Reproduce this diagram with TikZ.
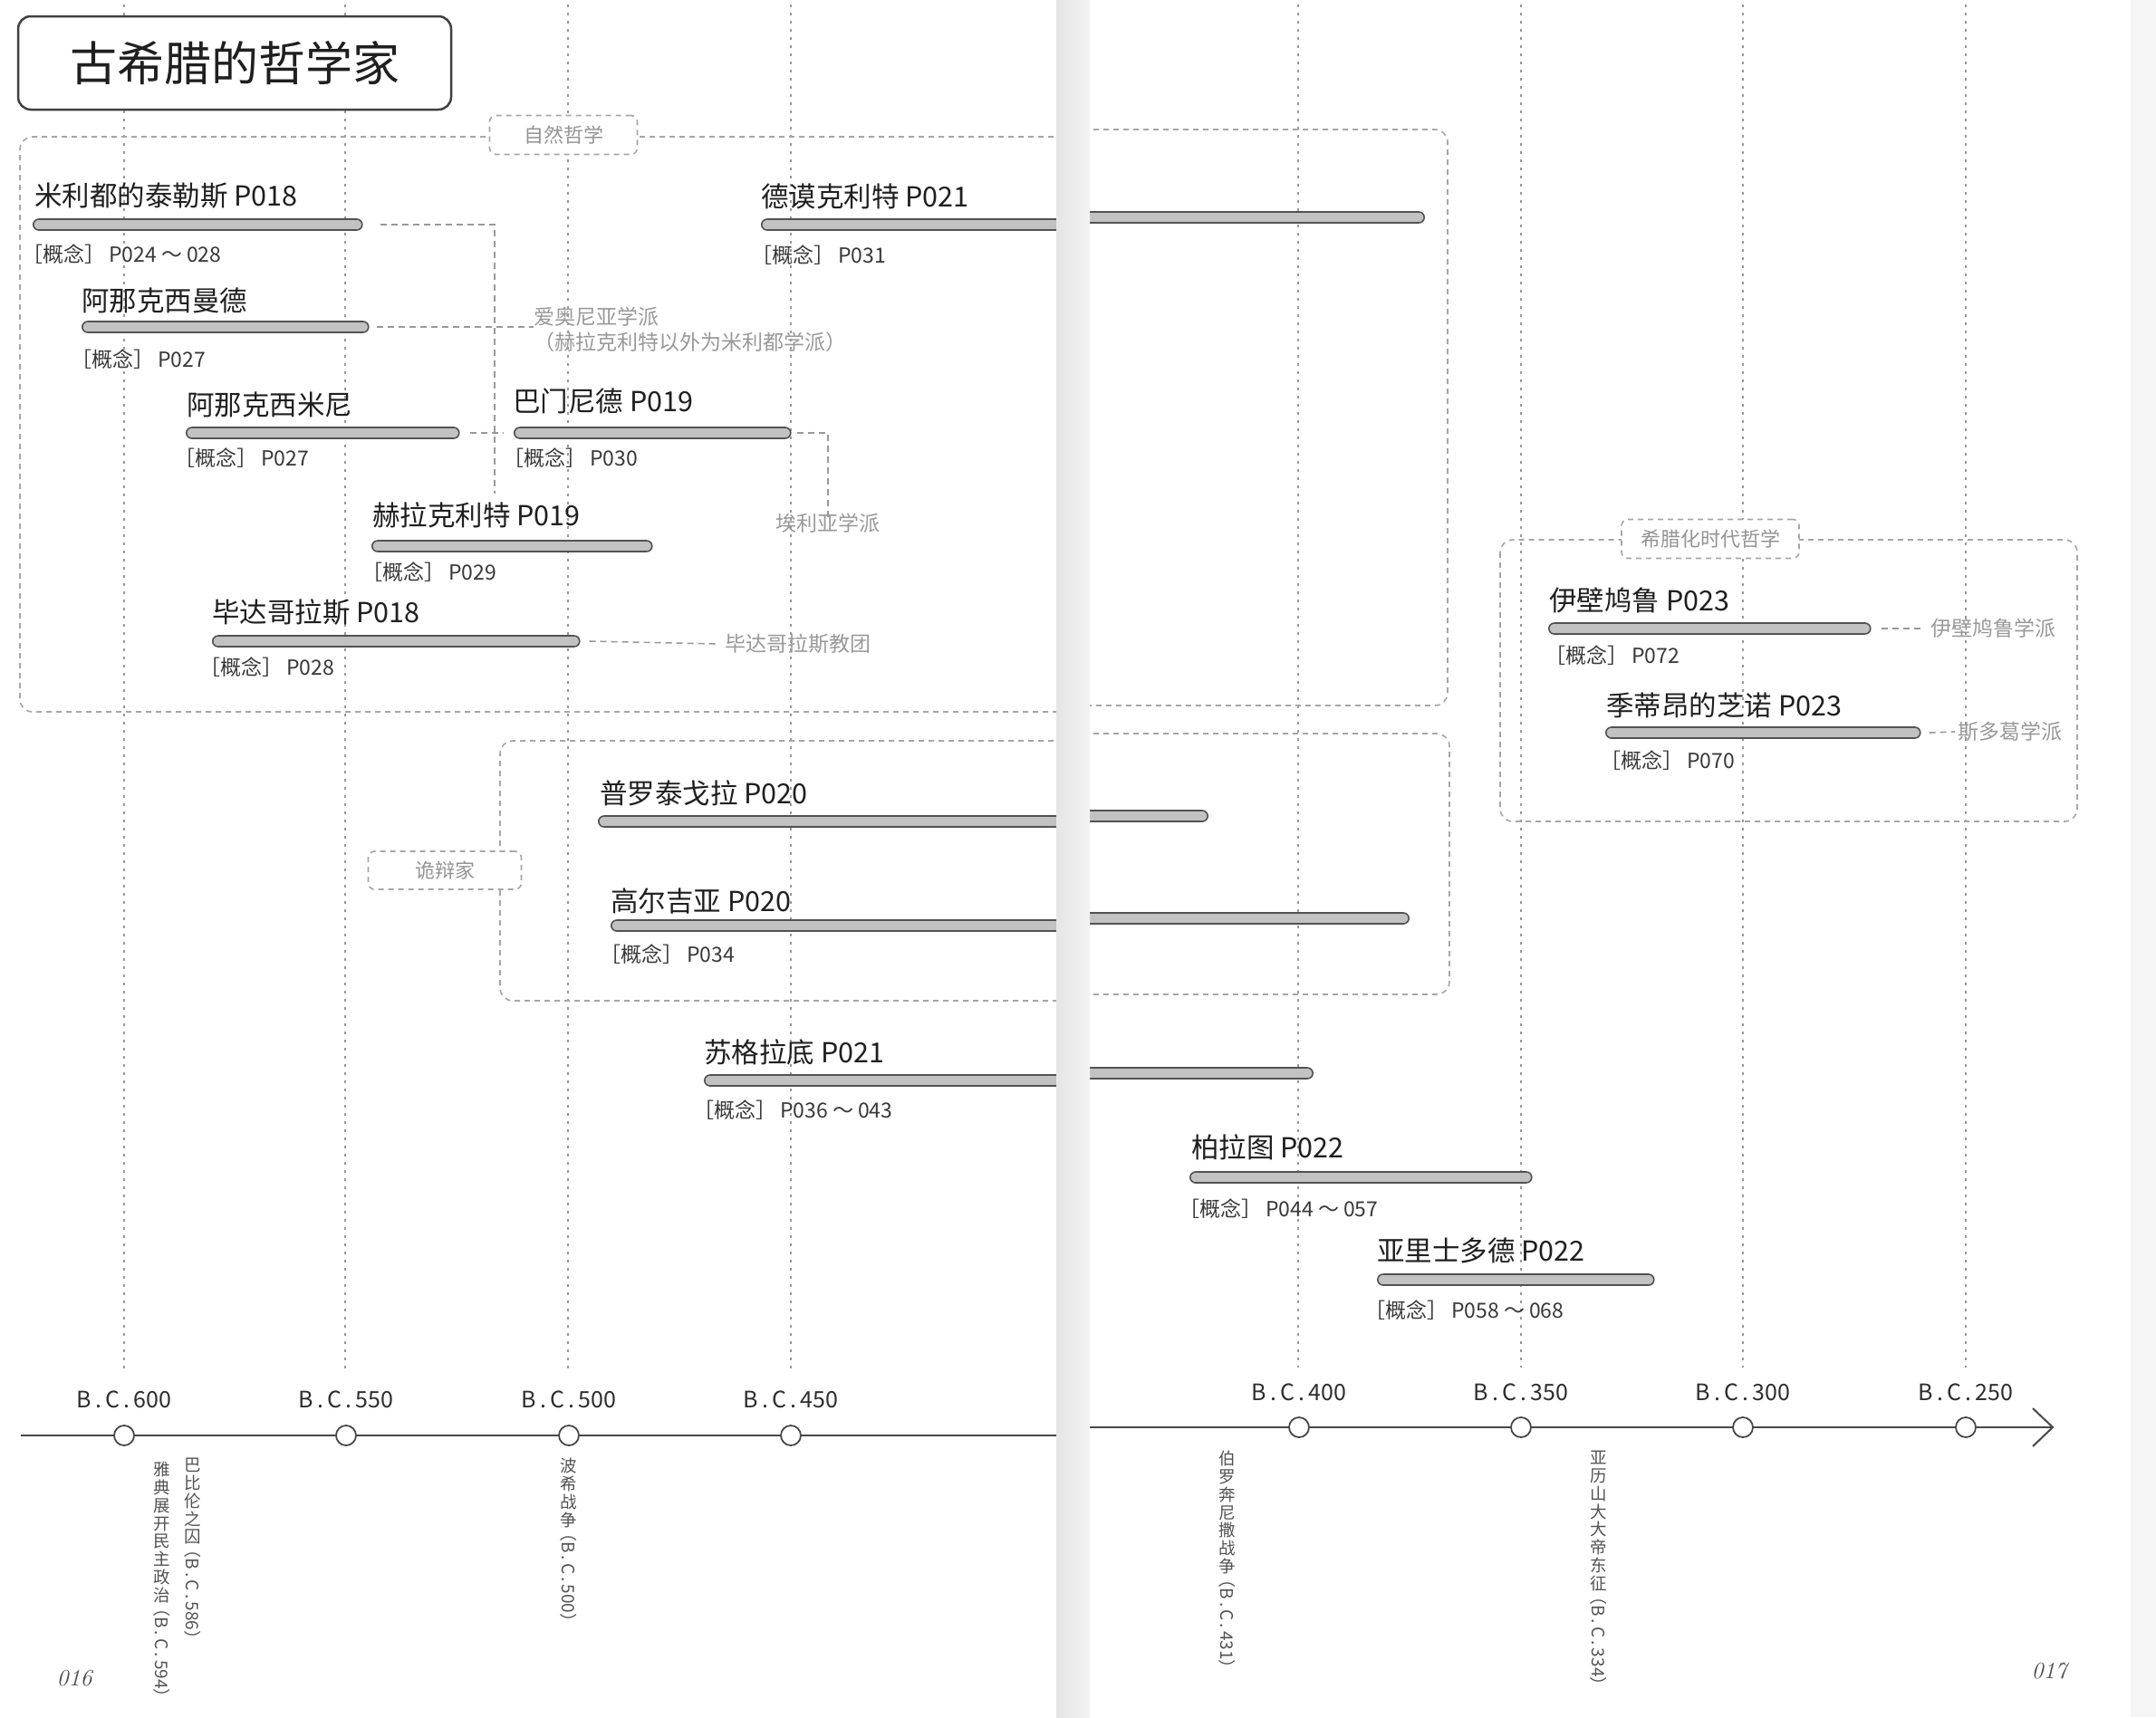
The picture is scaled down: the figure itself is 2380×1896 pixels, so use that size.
\documentclass[tikz,border=0pt]{standalone}
\usepackage{fontspec}
\newfontfamily\cjk{Noto Sans CJK SC}
\newcommand\fs[1]{\fontsize{#1}{#1}\selectfont}
\newcommand\gainian{［概念］\,}
\tikzset{
  grid line/.style={draw=black!40, line width=1.7pt, dash pattern=on 3pt off 6pt},
  group frame/.style={draw=black!35, line width=1.6pt, dash pattern=on 6pt off 5pt, rounded corners=14pt},
  group tag/.style={draw=black!35, line width=1.6pt, dash pattern=on 6pt off 5pt, rounded corners=7pt,
    fill=white, text=black!42, font=\cjk\fs{22}, inner sep=0pt},
  lifebar/.style={draw=black!68, fill=black!24, line width=1.6pt, rounded corners=6pt,
    minimum height=12pt, inner sep=0pt},
  person/.style={font=\cjk\fs{30.5}, text=black!88, inner sep=0pt, anchor=west},
  concept/.style={font=\cjk\fs{23}, text=black!78, inner sep=0pt, anchor=west, xshift=-12pt},
  school/.style={font=\cjk\fontsize{23}{28}\selectfont, text=black!40, inner sep=0pt},
  link/.style={draw=black!40, line width=1.6pt, dash pattern=on 7pt off 5pt},
  era/.style={font=\cjk\fs{25}, text=black!82, inner sep=0pt},
  tick/.style={circle, draw=black!72, fill=white, line width=1.8pt, minimum size=22pt, inner sep=0pt},
  axis line/.style={draw=black!72, line width=2.4pt},
  event/.style={font=\cjk\fontsize{18.5}{19.8}\selectfont, text=black!68, inner sep=0pt, align=center, anchor=north},
  event date/.style={font=\cjk\fs{19}, text=black!68, inner sep=0pt, rotate=-90, anchor=west},
}
\begin{document}
\begin{tikzpicture}[x=1pt,y=-1pt]
\useasboundingbox (0,0) rectangle (2380,1896);
\fill[white] (0,0) rectangle (2380,1896);
\fill[black!4] (2352,0) rectangle (2380,1896);

% dotted year guides
\foreach \gx in {137,381,627,873} \draw[grid line] (\gx,5) -- (\gx,1515);
\foreach \gx in {1433,1679,1924,2170} \draw[grid line] (\gx,5) -- (\gx,1510);

% group frames
\draw[group frame] (1185,151) -- (22,151) -- (22,786) -- (1185,786);
\draw[group frame] (1185,143) -- (1598,143) -- (1598,779) -- (1185,779);
\draw[group frame] (1185,818) -- (552,818) -- (552,1105) -- (1185,1105);
\draw[group frame] (1185,810) -- (1600,810) -- (1600,1098) -- (1185,1098);
\draw[group frame] (1656,596) rectangle (2293,907);

% life bars
\node[lifebar, anchor=west, minimum width=363pt] (thales) at (36,248) {};
\node[lifebar, anchor=west, minimum width=316pt] (anaximander) at (90,361) {};
\node[lifebar, anchor=west, minimum width=301pt] (anaximenes) at (205,478) {};
\node[lifebar, anchor=west, minimum width=305pt] (parmenides) at (567,478) {};
\node[lifebar, anchor=west, minimum width=309pt] (heraclitus) at (410,603) {};
\node[lifebar, anchor=west, minimum width=405pt] (pythagoras) at (234,708) {};
\node[lifebar, anchor=west, minimum width=377pt] (plato) at (1313,1300) {};
\node[lifebar, anchor=west, minimum width=305pt] (aristotle) at (1520,1413) {};
\node[lifebar, anchor=west, minimum width=355pt] (epicurus) at (1709,694) {};
\node[lifebar, anchor=west, minimum width=347pt] (zeno) at (1772,809) {};

% bars running across the binding: left page part
\begin{scope}
\clip (0,0) rectangle (1166,1896);
\node[lifebar, anchor=west, minimum width=380pt] (democritus) at (840,248) {};
\node[lifebar, anchor=west, minimum width=560pt] (protagoras) at (660,907) {};
\node[lifebar, anchor=west, minimum width=546pt] (gorgias) at (674,1022) {};
\node[lifebar, anchor=west, minimum width=443pt] (socrates) at (777,1193) {};
\end{scope}
% ... and right page part
\begin{scope}
\clip (1203,0) rectangle (2380,1896);
\node[lifebar, anchor=east, minimum width=423pt] (democritusB) at (1573,240) {};
\node[lifebar, anchor=east, minimum width=184pt] (protagorasB) at (1334,901) {};
\node[lifebar, anchor=east, minimum width=406pt] (gorgiasB) at (1556,1014) {};
\node[lifebar, anchor=east, minimum width=300pt] (socratesB) at (1450,1185) {};
\end{scope}

% names
\node[person] (n-thales) at (38,216) {米利都的泰勒斯 P018};
\node[person] (n-anaximander) at (90,332) {阿那克西曼德};
\node[person] (n-anaximenes) at (206,447) {阿那克西米尼};
\node[person] (n-parmenides) at (566,443) {巴门尼德 P019};
\node[person] (n-heraclitus) at (411,569) {赫拉克利特 P019};
\node[person] (n-pythagoras) at (234,676) {毕达哥拉斯 P018};
\node[person] (n-democritus) at (840,217) {德谟克利特 P021};
\node[person] (n-protagoras) at (662,876) {普罗泰戈拉 P020};
\node[person] (n-gorgias) at (674,995) {高尔吉亚 P020};
\node[person] (n-socrates) at (777,1162) {苏格拉底 P021};
\node[person] (n-plato) at (1315,1267) {柏拉图 P022};
\node[person] (n-aristotle) at (1520,1381) {亚里士多德 P022};
\node[person] (n-epicurus) at (1710,663) {伊壁鸠鲁 P023};
\node[person] (n-zeno) at (1773,779) {季蒂昂的芝诺 P023};

% concept references
\node[concept] (c-thales) at (36,281) {\gainian P024 ～ 028};
\node[concept] (c-anaximander) at (90,397) {\gainian P027};
\node[concept] (c-anaximenes) at (204,506) {\gainian P027};
\node[concept] (c-parmenides) at (567,506) {\gainian P030};
\node[concept] (c-heraclitus) at (411,632) {\gainian P029};
\node[concept] (c-pythagoras) at (232,737) {\gainian P028};
\node[concept] (c-democritus) at (841,282) {\gainian P031};
\node[concept] (c-gorgias) at (674,1054) {\gainian P034};
\node[concept] (c-socrates) at (777,1226) {\gainian P036 ～ 043};
\node[concept] (c-plato) at (1313,1335) {\gainian P044 ～ 057};
\node[concept] (c-aristotle) at (1518,1447) {\gainian P058 ～ 068};
\node[concept] (c-epicurus) at (1717,724) {\gainian P072};
\node[concept] (c-zeno) at (1778,840) {\gainian P070};

% schools
\node[school, anchor=west, align=left] (ionian) at (589,364) {爱奥尼亚学派\\（赫拉克利特以外为米利都学派）};
\node[school] (eleatic) at (914,578) {埃利亚学派};
\node[school, anchor=west] (pythagorean) at (800,711) {毕达哥拉斯教团};
\node[school, anchor=west] (epicurean) at (2131,694) {伊壁鸠鲁学派};
\node[school, anchor=west] (stoic) at (2161,808) {斯多葛学派};

\coordinate (ionTop) at (546,248);
\coordinate (ionBot) at (546,545);
\draw[link] (thales.east) ++(19,0) -- (ionTop) -- (ionBot);
\draw[link] ([xshift=8pt]anaximander.east) -- (anaximander.east -| ionian.west);
\draw[link] ([xshift=11pt]anaximenes.east) -- ([xshift=-11pt]parmenides.west);
\draw[link] ([xshift=6pt]parmenides.east) -| ([yshift=-6pt]eleatic.north);
\draw[link] ([xshift=10pt]pythagoras.east) -- ([xshift=-9pt]pythagorean.west);
\draw[link] ([xshift=11pt]epicurus.east) -- ([xshift=-8pt]epicurean.west);
\draw[link] ([xshift=9pt]zeno.east) -- ([xshift=-3pt]stoic.west);

% group tags
\node[group tag, minimum width=163pt, minimum height=43pt] (t-nature) at (622,149) {自然哲学};
\node[group tag, minimum width=169pt, minimum height=42pt] (t-sophist) at (491,961) {诡辩家};
\node[group tag, minimum width=196pt, minimum height=43pt] (t-hellen) at (1888,595) {希腊化时代哲学};

% title
\node[draw=black!75, line width=2.5pt, rounded corners=14pt, fill=white, minimum width=478pt,
      minimum height=103pt, inner sep=0pt, font=\cjk\fs{52}, text=black!88] (title) at (259,69.5) {古希腊的哲学家};

% time axis
\coordinate (axL1) at (23,1585);
\coordinate (axL2) at (1185,1585);
\coordinate (axR1) at (1185,1576);
\coordinate (axR2) at (2266,1576);
\draw[axis line] (axL1) -- (axL2);
\draw[axis line] (axR1) -- (axR2);
\coordinate (tipA) at (2244,1555);
\coordinate (tipB) at (2244,1597);
\draw[draw=black!72, line width=2pt] (tipA) -- (axR2) -- (tipB);

\node[tick] (t600) at (137,1585) {};
\node[tick] (t550) at (382,1585) {};
\node[tick] (t500) at (628,1585) {};
\node[tick] (t450) at (873,1585) {};
\node[tick] (t400) at (1434,1576) {};
\node[tick] (t350) at (1679,1576) {};
\node[tick] (t300) at (1924,1576) {};
\node[tick] (t250) at (2170,1576) {};

\node[era] (y600) at (137,1545) {B\,.\,C\,.\,600};
\node[era] (y550) at (382,1545) {B\,.\,C\,.\,550};
\node[era] (y500) at (628,1545) {B\,.\,C\,.\,500};
\node[era] (y450) at (873,1545) {B\,.\,C\,.\,450};
\node[era] (y400) at (1434,1537) {B\,.\,C\,.\,400};
\node[era] (y350) at (1679,1537) {B\,.\,C\,.\,350};
\node[era] (y300) at (1924,1537) {B\,.\,C\,.\,300};
\node[era] (y250) at (2170,1537) {B\,.\,C\,.\,250};

% events along the axis, set vertically
\node[event] (e594) at (179,1614) {雅\\典\\展\\开\\民\\主\\政\\治};
\node[event date] (e594d) at ([yshift=4pt]e594.south) {（B\,.\,C\,.\,594）};
\node[event] (e586) at (213,1610) {巴\\比\\伦\\之\\囚};
\node[event date] (e586d) at ([yshift=4pt]e586.south) {（B\,.\,C\,.\,586）};
\node[event] (e500) at (628,1610) {波\\希\\战\\争};
\node[event date] (e500d) at ([yshift=4pt]e500.south) {（B\,.\,C\,.\,500）};
\node[event] (e431) at (1355,1602) {伯\\罗\\奔\\尼\\撒\\战\\争};
\node[event date] (e431d) at ([yshift=4pt]e431.south) {（B\,.\,C\,.\,431）};
\node[event] (e334) at (1765,1602) {亚\\历\\山\\大\\大\\帝\\东\\征};
\node[event date] (e334d) at ([yshift=4pt]e334.south) {（B\,.\,C\,.\,334）};

% page numbers
\node[font=\itshape\fs{26}, text=black!70] (p016) at (82,1853) {016};
\node[font=\itshape\fs{26}, text=black!70] (p017) at (2262,1845) {017};

% binding gutter
\shade[left color=black!10, right color=black!5] (1166,0) rectangle (1203,1896);
\end{tikzpicture}
\end{document}
